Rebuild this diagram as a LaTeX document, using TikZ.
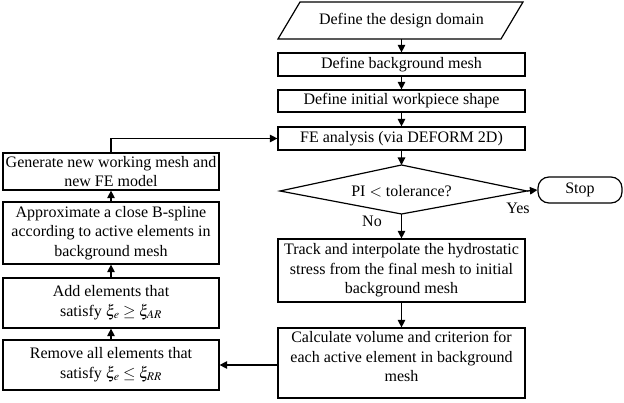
\documentclass[tikz,border=0pt]{standalone}
\usepackage{mathptmx}
\usepackage[no-math]{fontspec}
\setmainfont{Liberation Serif}
\usetikzlibrary{arrows.meta,calc}
\begin{document}
\begin{tikzpicture}[x=1pt,y=-1pt,
  every node/.style={font=\fontsize{16}{19.5}\selectfont},
  box/.style={draw,line width=1.2pt,inner sep=0pt,align=center},
  rbox/.style={box,minimum width=247pt},
  lbox/.style={box,minimum width=216pt},
  arr/.style={line width=1.2pt,-{Triangle[length=7.5pt,width=7.5pt]}},
  lbl/.style={inner sep=0pt}]
\useasboundingbox (0,0) rectangle (624,403);
% parallelogram
\coordinate (p1) at (278,39);
\coordinate (p2) at (300,2);
\coordinate (p3) at (523,2);
\coordinate (p4) at (501,39);
\draw[line width=1.2pt] (p1) -- (p2) -- (p3) -- (p4) -- cycle;
\node[lbl] (dom) at (401.5,20.5) {Define the design domain};
\coordinate (domS) at (401.5,39);
% right column
\node[rbox,minimum height=23pt] (bg) at (401.5,64.5) {Define background mesh};
\node[rbox,minimum height=22pt] (init) at (401.5,101) {Define initial workpiece shape};
\node[rbox,minimum height=23pt] (fe) at (401.5,138.5) {FE analysis (via DEFORM 2D)};
% diamond
\coordinate (dl) at (280,191);
\coordinate (dt) at (401.5,165);
\coordinate (dr) at (527,191);
\coordinate (db) at (401.5,214);
\draw[line width=1.2pt] (dl) -- (dt) -- (dr) -- (db) -- cycle;
\node[lbl] (dec) at (401.5,191) {PI $<$ tolerance?};
\node[draw,line width=1.2pt,rounded corners=11pt,minimum width=84pt,minimum height=26pt,inner sep=0pt] (stop) at (580,190) {Stop};
\node[rbox,minimum height=63pt] (track) at (401.5,270.5) {Track and interpolate the hydrostatic\\stress from the final mesh to initial\\background mesh};
\node[rbox,minimum height=70pt] (calc) at (401.5,363) {};
\node[lbl,align=center] (calct) at (401.5,356.5) {Calculate volume and criterion for\\each active element in background\\mesh};
% left column
\node[lbox,minimum height=37pt] (gen) at (111,171.5) {Generate new working mesh and\\new FE model};
\node[lbox,minimum height=62pt] (approx) at (111,233) {Approximate a close B-spline\\according to active elements in\\background mesh};
\node[lbox,minimum height=50pt] (add) at (111,303) {Add elements that\\satisfy $\xi_e \geq \xi_{AR}$};
\node[lbox,minimum height=50pt] (rem) at (111,365) {Remove all elements that\\satisfy $\xi_e \leq \xi_{RR}$};
% labels
\node[lbl] (yes) at (518,208) {Yes};
\node[lbl] (no) at (372,221) {No};
% connectors
\draw[arr] (domS) -- (bg.north);
\draw[arr] (bg.south) -- (init.north);
\draw[arr] (init.south) -- (fe.north);
\draw[arr] (fe.south) -- (dt);
\draw[arr] (db) -- (track.north);
\draw[arr] (dr) -- (stop.west);
\draw[arr] (track.south) -- (calc.north);
\draw[arr] (calc.west |- rem.east) -- (rem.east);
\draw[arr] (rem.north) -- (add.south);
\draw[arr] (add.north) -- (approx.south);
\draw[arr] (approx.north) -- (gen.south);
\draw[arr] (gen.north) |- (fe.west);
\end{tikzpicture}
\end{document}
